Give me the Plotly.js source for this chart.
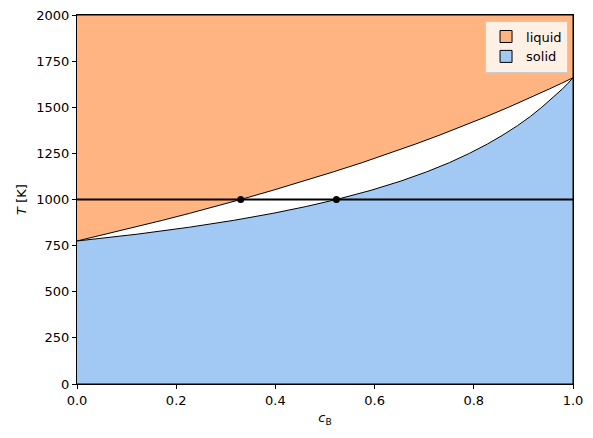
<!DOCTYPE html>
<html>
<head>
<meta charset="utf-8">
<script src="https://cdn.plot.ly/plotly-3.0.1.min.js"></script>
<style>html,body{margin:0;padding:0;background:#fff;}#chart{width:593px;height:438px;}</style>
</head>
<body>
<div id="chart"></div>
<script>
// Temperatures along the phase boundaries (K)
const temps = [775, 812, 850, 887, 925, 962, 1000, 1050, 1100, 1150, 1200, 1250, 1300, 1350, 1400, 1450, 1500, 1550, 1600, 1630, 1645, 1660];
// Liquidus composition c_B
const liquidusC = [0, 0.058, 0.117, 0.172, 0.227, 0.279, 0.330, 0.395, 0.458, 0.517, 0.575, 0.629, 0.682, 0.732, 0.780, 0.826, 0.870, 0.913, 0.953, 0.977, 0.989, 1];
// Solidus composition c_B
const solidusC = [0, 0.121, 0.227, 0.316, 0.395, 0.462, 0.523, 0.593, 0.653, 0.705, 0.751, 0.791, 0.827, 0.859, 0.888, 0.914, 0.937, 0.959, 0.979, 0.990, 0.995, 1];
// Tie line at T = 1000 K
const tieT = 1000;
const tieX = [0, 1];
const tiePointsC = [0.330, 0.523];
const Tmax = 2000, Tmin = 0;
const xTicks = [0, 0.2, 0.4, 0.6, 0.8, 1.0];
const yTicks = [0, 250, 500, 750, 1000, 1250, 1500, 1750, 2000];
const phaseNames = ['liquid', 'solid'];
const phaseColors = ['#FFB482', '#A1C9F4'];

const liquid = {
  x: liquidusC.concat([1, 0]),
  y: temps.concat([Tmax, Tmax]),
  type: 'scatter', mode: 'lines', fill: 'toself',
  fillcolor: phaseColors[0], line: {color: '#000', width: 1},
  name: phaseNames[0], showlegend: false
};
const solid = {
  x: solidusC.concat([1, 0]),
  y: temps.concat([Tmin, Tmin]),
  type: 'scatter', mode: 'lines', fill: 'toself',
  fillcolor: phaseColors[1], line: {color: '#000', width: 1},
  name: phaseNames[1], showlegend: false
};
const tie = {
  x: tieX, y: tieX.map(() => tieT),
  type: 'scatter', mode: 'lines', line: {color: '#000', width: 1.8},
  showlegend: false, hoverinfo: 'skip'
};
const pts = {
  x: tiePointsC, y: tiePointsC.map(() => tieT),
  type: 'scatter', mode: 'markers', marker: {color: '#000', size: 7},
  showlegend: false
};
// legend-only entries (rectangular swatches with black edge)
const legendTraces = phaseNames.map((n, i) => ({
  x: [null], y: [null], type: 'bar', name: n,
  marker: {color: phaseColors[i], line: {color: '#000', width: 1}},
  showlegend: true
}));

const font = {family: 'DejaVu Sans, sans-serif', size: 13, color: '#000'};
const layout = {
  width: 593, height: 438,
  margin: {l: 77, r: 20, t: 15, b: 54},
  paper_bgcolor: '#fff', plot_bgcolor: '#fff',
  font: font,
  showlegend: true,
  legend: {x: 0.99, y: 0.985, xanchor: 'right', yanchor: 'top',
    bgcolor: 'rgba(255,255,255,0.8)', bordercolor: '#cccccc', borderwidth: 1,
    font: {family: 'DejaVu Sans, sans-serif', size: 13, color: '#000'}},
  xaxis: {range: [0, 1], tickvals: xTicks, ticktext: xTicks.map(v => v.toFixed(1)),
    ticks: 'outside', ticklen: 4, tickcolor: '#000', showgrid: false, zeroline: false,
    showline: true, mirror: true, linecolor: '#000', linewidth: 1,
    title: {text: '<i>c</i><sub>B</sub>', font: font, standoff: 6}},
  yaxis: {range: [0, 2000], tickvals: yTicks,
    ticks: 'outside', ticklen: 4, tickcolor: '#000', showgrid: false, zeroline: false,
    showline: true, mirror: true, linecolor: '#000', linewidth: 1,
    title: {text: '<i>T</i> [K]', font: font, standoff: 6}}
};
Plotly.newPlot('chart', [liquid, solid, tie, pts].concat(legendTraces), layout, {displayModeBar: false, staticPlot: true});
</script>
</body>
</html>
